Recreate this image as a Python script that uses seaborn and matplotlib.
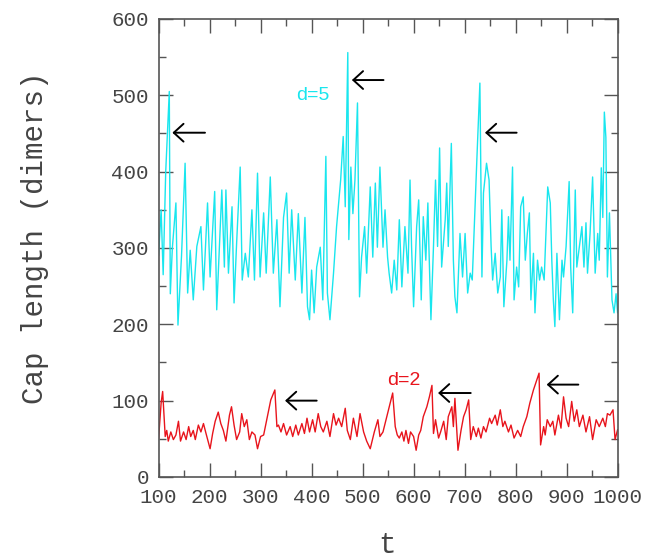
import matplotlib
matplotlib.use("Agg")
import matplotlib.pyplot as plt
import seaborn as sns
import pandas as pd
from matplotlib.ticker import MultipleLocator

# ---- data (d=5, cyan) ----
t_d5 = [100, 105, 109, 114, 121, 123, 127, 134, 138, 145,
        152, 157, 162, 168, 175, 183, 188, 196, 201, 210,
        214, 224, 229, 232, 237, 244, 248, 253, 260, 264,
        270, 276, 283, 288, 294, 299, 306, 311, 319, 325,
        332, 338, 345, 351, 356, 361, 368, 374, 381, 387,
        392, 396, 400, 405, 410, 417, 422, 428, 431, 436,
        443, 449, 457, 462, 466, 471, 473, 477, 481, 485,
        490, 494, 498, 504, 508, 515, 520, 525, 529, 534,
        540, 544, 549, 552, 557, 562, 567, 572, 577, 583,
        589, 593, 596, 600, 606, 610, 615, 619, 624, 628,
        630, 634, 639, 643, 647, 651, 655, 662, 665, 668,
        674, 678, 681, 685, 691, 696, 701, 706, 711, 715,
        719, 724, 730, 734, 737, 743, 748, 752, 755, 760,
        765, 770, 773, 777, 783, 786, 789, 794, 797, 802,
        806, 810, 815, 819, 823, 827, 830, 835, 838, 843,
        847, 851, 856, 860, 863, 868, 871, 874, 877, 881,
        886, 891, 894, 899, 905, 908, 912, 917, 920, 925,
        930, 934, 938, 941, 946, 951, 956, 961, 964, 968,
        971, 974, 977, 980, 984, 989, 993, 997, 1000]
cap_d5 = [290, 350, 265, 400, 505, 240, 300, 359, 199, 290,
          411, 241, 297, 232, 302, 328, 245, 359, 262, 374,
          219, 376, 275, 376, 267, 354, 228, 306, 406, 258,
          293, 262, 350, 258, 398, 262, 346, 267, 393, 267,
          337, 223, 340, 372, 267, 350, 258, 345, 241, 340,
          223, 206, 271, 215, 275, 301, 232, 420, 241, 206,
          267, 328, 389, 446, 354, 556, 311, 406, 345, 389,
          490, 236, 288, 328, 267, 380, 288, 385, 301, 406,
          301, 350, 288, 267, 241, 284, 245, 337, 249, 328,
          267, 389, 302, 223, 328, 363, 232, 341, 284, 359,
          302, 206, 302, 389, 302, 431, 275, 337, 385, 302,
          437, 284, 236, 215, 319, 262, 319, 241, 267, 258,
          328, 415, 516, 262, 372, 411, 389, 302, 258, 293,
          241, 262, 350, 223, 284, 341, 284, 406, 232, 275,
          249, 354, 367, 284, 319, 346, 232, 293, 215, 284,
          258, 275, 258, 328, 380, 359, 284, 232, 197, 293,
          206, 284, 262, 302, 387, 275, 215, 376, 275, 302,
          328, 275, 333, 267, 319, 393, 267, 319, 284, 405,
          340, 478, 445, 262, 346, 232, 215, 240, 215]

# ---- data (d=2, red) ----
t_d2 = [100, 105, 108, 113, 116, 119, 124, 129, 134, 139,
        143, 149, 154, 159, 163, 168, 172, 178, 183, 188,
        193, 201, 206, 211, 217, 222, 227, 232, 239, 243,
        248, 253, 259, 263, 268, 273, 278, 283, 289, 294,
        300, 306, 312, 320, 328, 332, 335, 340, 345, 351,
        358, 363, 369, 374, 381, 386, 391, 396, 402, 407,
        413, 418, 423, 430, 436, 443, 448, 453, 459, 466,
        470, 476, 482, 489, 495, 502, 508, 515, 523, 530,
        534, 540, 549, 559, 564, 568, 572, 577, 581, 585,
        590, 594, 600, 605, 610, 614, 619, 626, 631, 636,
        639, 643, 649, 653, 659, 664, 668, 675, 678, 681,
        687, 693, 698, 703, 708, 712, 717, 723, 727, 732,
        737, 742, 749, 753, 760, 764, 770, 775, 779, 786,
        791, 797, 804, 810, 815, 822, 828, 835, 846, 849,
        855, 858, 862, 868, 873, 877, 884, 889, 894, 899,
        904, 910, 915, 920, 925, 932, 938, 945, 951, 958,
        964, 971, 976, 980, 985, 991, 995, 1000]
cap_d2 = [50, 97, 112, 53, 61, 47, 59, 49, 55, 73,
          47, 59, 49, 66, 53, 61, 49, 68, 59, 70,
          57, 37, 57, 73, 85, 70, 61, 47, 81, 92,
          68, 49, 59, 83, 66, 75, 49, 59, 55, 37,
          53, 55, 75, 101, 114, 66, 68, 59, 70, 55,
          66, 53, 68, 55, 70, 57, 77, 59, 75, 59,
          83, 66, 59, 73, 53, 83, 68, 77, 66, 90,
          61, 49, 77, 53, 83, 59, 47, 37, 59, 75,
          53, 59, 83, 110, 66, 55, 51, 59, 47, 61,
          44, 59, 53, 35, 55, 61, 79, 92, 105, 120,
          57, 75, 51, 59, 73, 49, 79, 92, 66, 103,
          35, 61, 79, 88, 101, 49, 66, 53, 64, 51,
          66, 59, 77, 70, 81, 68, 88, 66, 73, 59,
          68, 51, 61, 53, 66, 79, 97, 114, 136, 42,
          66, 55, 75, 66, 73, 55, 81, 64, 105, 77,
          66, 99, 73, 88, 66, 81, 59, 79, 49, 75,
          66, 77, 66, 83, 81, 88, 49, 62]

assert len(t_d5) == len(cap_d5) and len(t_d2) == len(cap_d2)

series_names = ["d=5", "d=2"]
x_ticks = [100, 200, 300, 400, 500, 600, 700, 800, 900, 1000]
y_ticks = [0, 100, 200, 300, 400, 500, 600]
x_label = "t"
y_label = "Cap length (dimers)"

# annotation arrows: (head t, level, tail t)
arrows_d5 = [(127, 451, 191), (479, 520, 541), (740, 451, 802)]
arrows_d2 = [(348, 100, 410), (648, 110, 712), (861, 121, 923)]
label_pos = {"d=5": (403, 500), "d=2": (580, 127)}

CYAN = "#19e6ee"
RED = "#e8141c"
GREY = "#555555"

sns.set_style("ticks")
plt.rcParams["font.family"] = ["Liberation Mono", "DejaVu Sans Mono"]

fig = plt.figure(figsize=(6.58, 5.58), dpi=100)
ax = fig.add_axes([0.241, 0.1452, 0.6976, 0.8208])

df5 = pd.DataFrame({"t": t_d5, "cap": cap_d5})
df2 = pd.DataFrame({"t": t_d2, "cap": cap_d2})
sns.lineplot(data=df5, x="t", y="cap", color=CYAN, lw=1.0, ax=ax,
             estimator=None, sort=False)
sns.lineplot(data=df2, x="t", y="cap", color=RED, lw=1.0, ax=ax,
             estimator=None, sort=False)

ax.set_xlim(100, 1000)
ax.set_ylim(0, 600)
ax.set_xticks(x_ticks)
ax.set_yticks(y_ticks)
ax.xaxis.set_minor_locator(MultipleLocator(50))
ax.yaxis.set_minor_locator(MultipleLocator(50))
ax.tick_params(which="both", direction="in", top=True, right=True,
               color=GREY, width=1.0)
ax.tick_params(which="major", length=10, labelsize=15, labelcolor="#444444")
ax.tick_params(which="minor", length=5)
ax.tick_params(axis="x", pad=8)
ax.tick_params(axis="y", pad=7)
for s in ax.spines.values():
    s.set_color(GREY)
    s.set_linewidth(1.2)
    s.set_visible(True)

ax.set_xlabel(x_label, fontsize=21, color="#444444")
ax.set_ylabel(y_label, fontsize=21, color="#444444")
ax.xaxis.set_label_coords(0.498, -0.148)
ax.xaxis.label.set_va("center")
ax.yaxis.set_label_coords(-0.269, 0.523)
ax.yaxis.label.set_va("center")

for name, col in zip(series_names, [CYAN, RED]):
    x, y = label_pos[name]
    ax.text(x, y, name, color=col, fontsize=14, ha="center", va="center",
            family=["Liberation Sans", "DejaVu Sans"])

for head, lev, tail in arrows_d5 + arrows_d2:
    ax.annotate("", xy=(head, lev), xytext=(tail, lev),
                arrowprops=dict(arrowstyle="->,head_length=0.35,head_width=0.32",
                                color="black", lw=1.4, mutation_scale=20,
                                shrinkA=0, shrinkB=0))

fig.savefig("out.png", dpi=100)
